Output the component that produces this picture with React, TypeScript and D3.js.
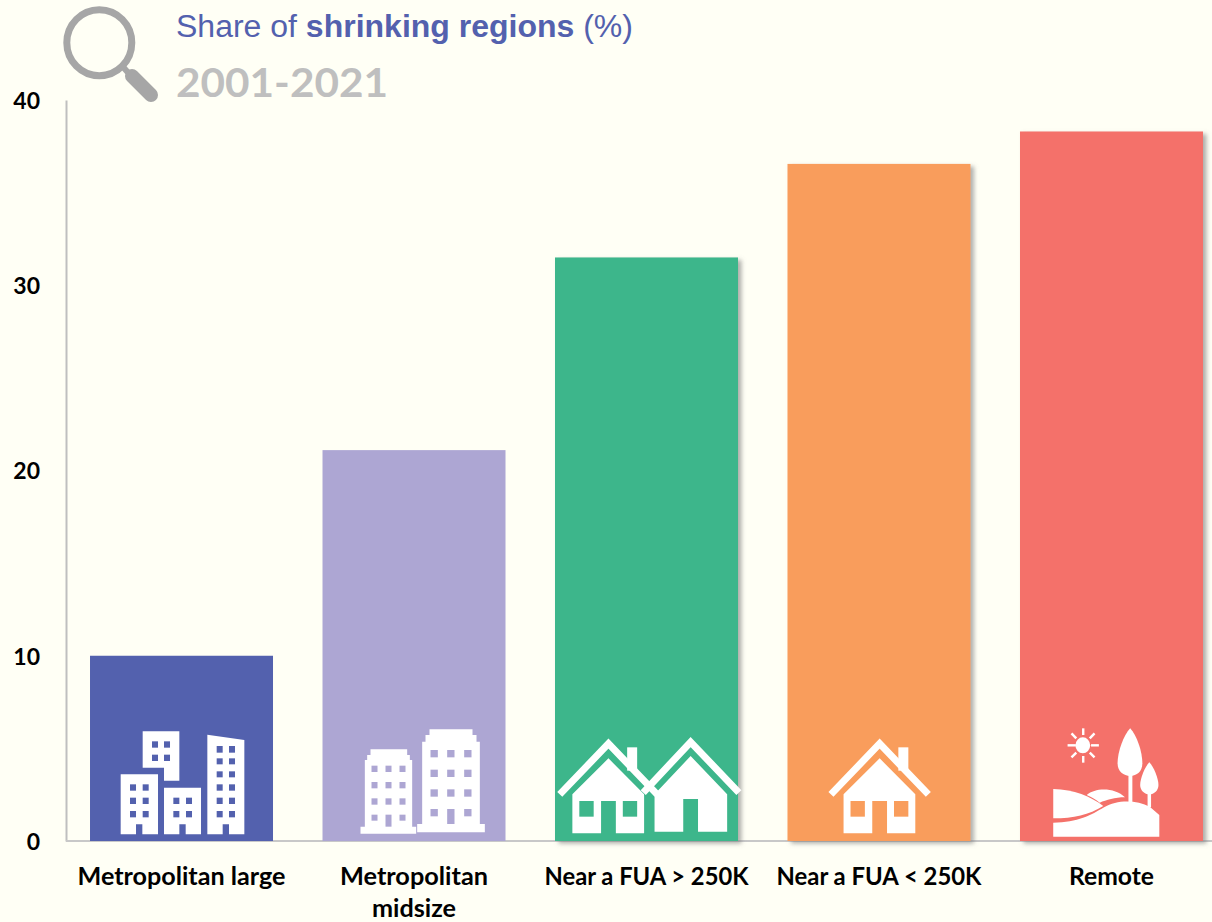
import React, { useEffect, useRef } from "react";
import * as d3 from "d3";

const categories = ["Metropolitan large", "Metropolitan midsize", "Near a FUA > 250K", "Near a FUA < 250K", "Remote"];
const shareValues = [10.0, 21.1, 31.5, 36.55, 38.3];
const barColors = ["#5361AE", "#ADA6D3", "#3EB68B", "#F99D5C", "#F4716A"];
const hasShadow = [false, false, true, true, true];
const yTicks = [0, 10, 20, 30, 40];
const wrappedLabels: Record<string, string[]> = { "Metropolitan midsize": ["Metropolitan", "midsize"] };
const lineWidths: Record<string, number> = {
  "Metropolitan large": 208, "Metropolitan": 148, "midsize": 84,
  "Near a FUA > 250K": 204, "Near a FUA < 250K": 205, "Remote": 85,
};

const BG = "#FFFFF5";
const W = 1212, H = 922;
const y = d3.scaleLinear().domain([0, 40]).range([841, 100]);
const x = d3.scaleBand<string>().domain(categories).range([65.25, 1227.75]).paddingInner(0.2129).paddingOuter(0.1065);

function rects(cols: number[][], rows: number[][], fill: string) {
  return rows.flatMap((r, i) => cols.map((c, j) => (
    <rect key={`${i}-${j}`} x={c[0]} y={r[0]} width={c[1] - c[0]} height={r[1] - r[0]} fill={fill} />
  )));
}

function IconLarge({ fill }: { fill: string }) {
  return (
    <g fill="#fff">
      <path d="M248 94H358V242H312V203H248Z" />
      <path d="M182 223H294V403H247V373H228V403H182Z" />
      <path d="M312 263H423V403H377V373H358V403H312Z" />
      <path d="M442 104L553 120V403H507V373H488V403H442Z" />
      {rects([[276, 294], [312, 330]], [[124, 143], [164, 183]], fill)}
      {rects([[210, 228], [248, 266]], [[253, 272], [293, 312], [333, 352]], fill)}
      {rects([[340, 358], [378, 396]], [[293, 312], [333, 352]], fill)}
      {rects([[470, 488], [507, 525]], [[138, 158], [175, 193], [214, 232], [253, 272], [293, 312], [333, 352]], fill)}
    </g>
  );
}

function IconMid({ fill }: { fill: string }) {
  return (
    <g fill="#fff">
      <path d="M913 380V180H920V165H930V148H1040V165H1048V180H1055V380H1067V401H900V380Z" />
      <path d="M1085 372V125H1095V105H1107V88H1236V105H1248V125H1258V372H1273V397H1070V372Z" />
      {rects([[933, 951], [975, 993], [1017, 1035]], [[197, 216], [246, 265], [295, 314]], fill)}
      {rects([[933, 951], [1017, 1035]], [[344, 362]], fill)}
      <rect x={975} y={344} width={18} height={36} fill={fill} />
      {rects([[1110, 1132], [1160, 1182], [1211, 1233]], [[150, 172], [209, 231], [268, 290]], fill)}
      {rects([[1110, 1132], [1211, 1233]], [[327, 349]], fill)}
      <rect x={1160} y={327} width={22} height={45} fill={fill} />
    </g>
  );
}

function House({ dx, windows, fill, chimney }: { dx: number; windows: boolean; fill: string; chimney: boolean }) {
  return (
    <g transform={`translate(${dx},0)`} fill="#fff">
      {chimney && <rect x={223} y={142} width={23} height={70} />}
      <path d="M97 400V283L180 175L262 283V400H197V303H163V400Z" />
      <path d="M68 283L180 131L292 283" fill="none" stroke="#fff" strokeWidth={7} vectorEffect="non-scaling-stroke" />
      {windows && <rect x={113} y={303} width={33} height={47} fill={fill} />}
      {windows && <rect x={213} y={303} width={33} height={47} fill={fill} />}
    </g>
  );
}

function IconTwoHouses({ fill }: { fill: string }) {
  return (
    <g>
      <House dx={0} windows fill={fill} chimney />
      <g fill="#fff">
        <path d="M286 395V283L369 168L453 283V395H386V297H352V395Z" />
        <path d="M260 278L369 126L480 278" fill="none" stroke="#fff" strokeWidth={7} vectorEffect="non-scaling-stroke" />
      </g>
    </g>
  );
}

function IconHouse({ fill }: { fill: string }) {
  return <House dx={623} windows fill={fill} chimney />;
}

function IconRemote() {
  const rays = [[1272, 85, 1272, 105], [1272, 168, 1272, 188], [1236, 136, 1255, 136], [1290, 136, 1308, 136],
    [1245, 100, 1256, 115], [1298, 100, 1287, 115], [1245, 172, 1256, 158], [1298, 172, 1287, 158]];
  return (
    <g fill="#fff">
      <ellipse cx={1271} cy={136} rx={17} ry={24} />
      {rays.map((r, i) => (
        <line key={i} x1={r[0]} y1={r[1]} x2={r[2]} y2={r[3]} stroke="#fff" strokeWidth={2.4} vectorEffect="non-scaling-stroke" />
      ))}
      <path d="M1380 85C1395 105 1408 155 1408 190C1408 215 1395 228 1380 228C1365 228 1351 215 1351 190C1351 155 1365 105 1380 85Z" />
      <rect x={1376} y={225} width={9} height={82} />
      <path d="M1424 187C1434 200 1445 235 1445 255C1445 272 1435 283 1424 283C1413 283 1403 272 1403 255C1403 235 1414 200 1424 187Z" />
      <rect x={1420} y={280} width={8} height={42} />
      <path d="M1203 355V267C1250 268 1290 290 1318 318C1285 345 1250 355 1203 355Z" />
      <path d="M1280 285C1300 262 1345 262 1368 292C1345 292 1325 300 1310 308C1300 298 1290 290 1280 285Z" />
      <path d="M1203 410V368C1260 368 1290 345 1320 322C1350 298 1395 300 1425 320L1447 345V410Z" />
    </g>
  );
}

const iconFrames = [
  { sx: 1 / 3, cx: 364.5, draw: (f: string) => <IconLarge fill={f} /> },
  { sx: 1 / 3, cx: 1060.5, draw: (f: string) => <IconMid fill={f} /> },
  { sx: 1 / 2.3, cx: 267.5, draw: (f: string) => <IconTwoHouses fill={f} /> },
  { sx: 1 / 2.3, cx: 801.5, draw: (f: string) => <IconHouse fill={f} /> },
  { sx: 1 / 2.3, cx: 1337, draw: () => <IconRemote /> },
];

export default function App() {
  const yRef = useRef<SVGGElement>(null);
  const xRef = useRef<SVGGElement>(null);

  useEffect(() => {
    const gy = d3.select(yRef.current!);
    gy.call(d3.axisLeft(y).tickValues(yTicks).tickSize(0).tickPadding(26).tickFormat(d3.format("d")) as any);
    gy.select(".domain").attr("stroke", "#BFBFBF").attr("stroke-width", 2);
    gy.selectAll("text").attr("font-family", "Lato").attr("font-weight", 700).attr("font-size", 23).attr("fill", "#000").attr("dy", "0.36em");

    const gx = d3.select(xRef.current!);
    gx.call(d3.axisBottom(x).tickSize(0).tickPadding(0) as any);
    gx.select(".domain").attr("stroke", "#C8C8C8").attr("stroke-width", 2).attr("d", `M66,0H${W}`);
    gx.selectAll<SVGTextElement, string>("text").each(function (d) {
      const t = d3.select(this);
      t.text(null).attr("y", 0).attr("dy", null)
        .attr("font-family", "Lato").attr("font-weight", 700).attr("font-size", 24).attr("fill", "#000");
      (wrappedLabels[d] ?? [d]).forEach((line, i) => {
        t.append("tspan").attr("x", 0).attr("y", 44 + i * 32)
          .attr("textLength", lineWidths[line]).attr("lengthAdjust", "spacingAndGlyphs").text(line);
      });
    });
  }, []);

  return (
    <svg width={W} height={H} viewBox={`0 0 ${W} ${H}`} style={{ position: "absolute", left: 0, top: 0, background: BG }}>
      <defs>
        <filter id="barShadow" x="-10%" y="-5%" width="125%" height="110%">
          <feDropShadow dx={3.5} dy={2.5} stdDeviation={2} floodColor="#7a7a7a" floodOpacity={0.6} />
        </filter>
      </defs>
      <rect width={W} height={H} fill={BG} />

      <g ref={yRef} transform="translate(66,0)" />
      <g ref={xRef} transform="translate(0,841)" />

      {categories.map((c, i) => (
        <rect key={c} x={x(c)} y={y(shareValues[i])} width={x.bandwidth()} height={y(0) - y(shareValues[i])}
          fill={barColors[i]} filter={hasShadow[i] ? "url(#barShadow)" : undefined} />
      ))}

      {categories.map((c, i) => {
        const fr = iconFrames[i];
        const cx = x(c)! + x.bandwidth() / 2;
        return (
          <g key={c} transform={`translate(${cx},${y(0)}) scale(${fr.sx},${1 / 3}) translate(${-fr.cx},-423)`}>
            {fr.draw(barColors[i])}
          </g>
        );
      })}

      <g>
        <ellipse cx={99.3} cy={42.7} rx={32.5} ry={33} fill="none" stroke="#A6A6A6" strokeWidth={7} />
        <line x1={124} y1={68} x2={131} y2={76} stroke="#A6A6A6" strokeWidth={6} />
        <line x1={132} y1={76} x2={151} y2={95} stroke="#A6A6A6" strokeWidth={14} strokeLinecap="round" />
      </g>

      <text x={176} y={37} fontFamily="Liberation Sans" fontSize={31} fill="#5361AE" textLength={457} lengthAdjust="spacingAndGlyphs">
        Share of <tspan fontWeight={700}>shrinking regions</tspan> (%)
      </text>
      <text x={176} y={97} fontFamily="Lato" fontWeight={700} fontSize={41} fill="#BFBFBF" textLength={212} lengthAdjust="spacingAndGlyphs">2001-2021</text>
    </svg>
  );
}
